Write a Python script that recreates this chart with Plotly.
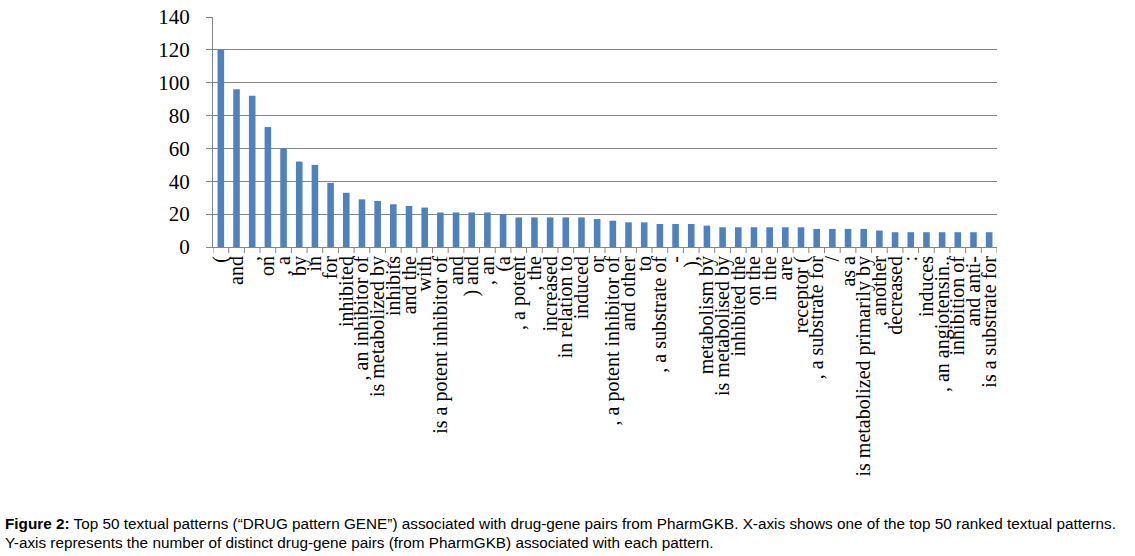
import plotly.graph_objects as go

patterns = [
    "(", "and", ",", "on", ", a", "by", "in", "for", "inhibited",
    ", an inhibitor of", "is metabolized by", "inhibits", "and the", "with",
    "is a potent inhibitor of", "and", ") and", ", an", "(a",
    ", a potent", ", the", "increased", "in relation to", "induced",
    "or", ", a potent inhibitor of", "and other", "to", ", a substrate of",
    "-", "),", "metabolism by", "is metabolised by", "inhibited the",
    "on the", "in the", "are", "receptor (", ", a substrate for",
    "/", "as a", "is metabolized primarily by", ", another", "decreased",
    ":", "induces", ", an angiotensin..", "inhibition of", "and anti-",
    "is a substrate for",
]
counts = [
    120, 96, 92, 73, 60, 52, 50, 39, 33, 29,
    28, 26, 25, 24, 21, 21, 21, 21, 20, 18,
    18, 18, 18, 18, 17, 16, 15, 15, 14, 14,
    14, 13, 12, 12, 12, 12, 12, 12, 11, 11,
    11, 11, 10, 9, 9, 9, 9, 9, 9, 9,
]
ids = list(range(len(counts)))
y_ticks = [0, 20, 40, 60, 80, 100, 120, 140]

caption1 = ("<b>Figure 2:</b> Top 50 textual patterns (\u201cDRUG pattern GENE\u201d) associated with "
            "drug-gene pairs from PharmGKB. X-axis shows one of the top 50 ranked textual patterns.")
caption2 = ("Y-axis represents the number of distinct drug-gene pairs (from PharmGKB) "
            "associated with each pattern.")

W, H = 1135, 556
L, T, PW, PH = 213, 17, 784, 230

fig = go.Figure(go.Bar(
    x=ids, y=counts, marker=dict(color="#4F81BD", line=dict(width=0)),
    hoverinfo="skip",
))

fig.update_layout(
    width=W, height=H,
    margin=dict(l=L, r=W - L - PW, t=T, b=H - T - PH, autoexpand=False),
    paper_bgcolor="white", plot_bgcolor="white",
    bargap=0.58, showlegend=False,
    font=dict(family="Liberation Serif", color="black"),
)
fig.update_xaxes(
    tickmode="array", tickvals=ids, ticktext=patterns,
    range=[-0.5, len(counts) - 0.5], automargin=False,
    tickangle=-90, tickfont=dict(family="Liberation Serif", size=20, color="black"),
    showline=True, linecolor="#868686", linewidth=1,
    ticks="", showgrid=False, zeroline=False, ticklabeloverflow="allow",
)
fig.update_yaxes(
    range=[0, 140], tickvals=y_ticks, automargin=False,
    tickfont=dict(family="Liberation Serif", size=21, color="black"),
    showline=True, linecolor="#868686", linewidth=1,
    ticks="outside", ticklen=6, tickcolor="#868686",
    showgrid=True, gridcolor="#868686", gridwidth=1,
    zeroline=False, ticklabelstandoff=12, ticklabeloverflow="allow",
)
for b in [i - 0.5 for i in range(len(counts) + 1)]:
    fig.add_shape(type="line", xref="x", yref="paper", x0=b, x1=b, y0=0, y1=-6 / PH,
                  line=dict(color="#868686", width=1))

base = T + PH
fig.add_annotation(text=caption1, xref="paper", yref="paper", x=(3 - L) / PW, y=(base - 523) / PH,
                   xanchor="left", yanchor="middle", showarrow=False,
                   font=dict(family="Liberation Sans", size=15.3, color="black"))
fig.add_annotation(text=caption2, xref="paper", yref="paper", x=(3 - L) / PW, y=(base - 543) / PH,
                   xanchor="left", yanchor="middle", showarrow=False,
                   font=dict(family="Liberation Sans", size=15.3, color="black"))

fig.write_html("out.html", config={"displayModeBar": False},
               post_script="document.body.style.margin='0';")
